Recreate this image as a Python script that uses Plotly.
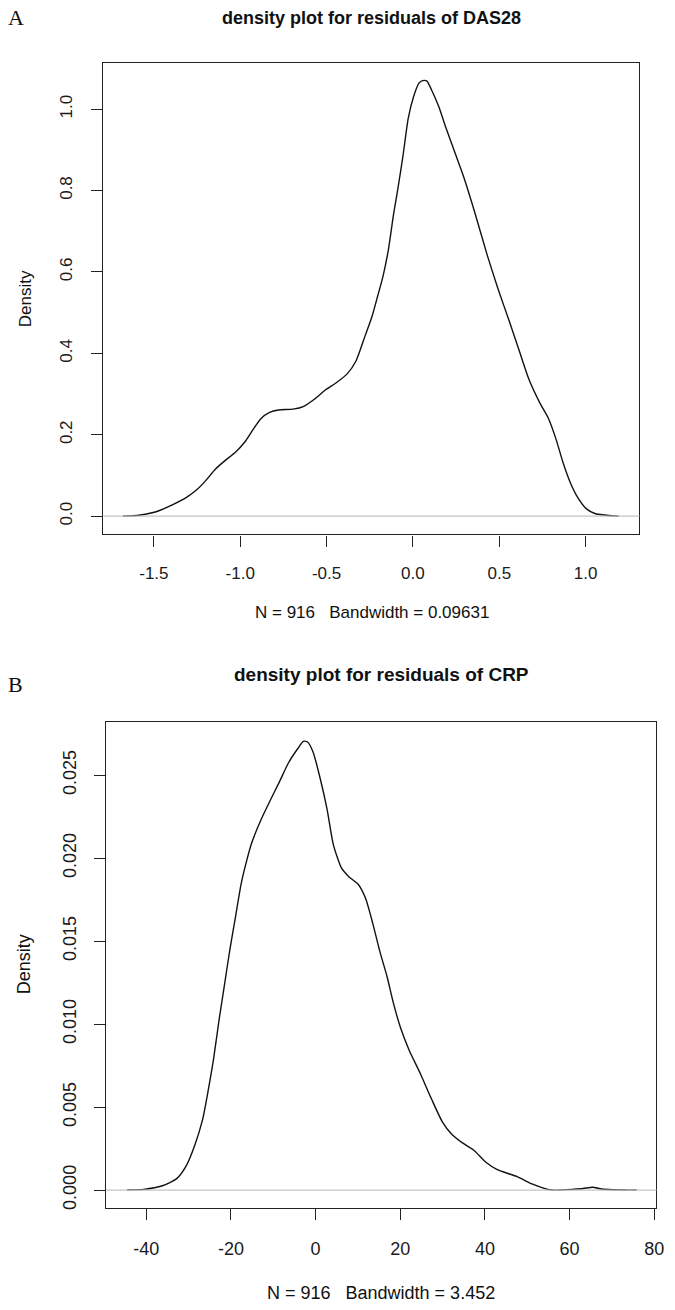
import plotly.graph_objects as go

# ---------------- data ----------------
# Panel A: density of residuals of DAS28
dens_a_x = [-1.68, -1.62, -1.578, -1.487, -1.403, -1.309, -1.257, -1.205, -1.143, -1.090, -1.028,
            -0.976, -0.924, -0.882, -0.830, -0.778, -0.694, -0.632, -0.569, -0.507,
            -0.444, -0.382, -0.329, -0.277, -0.236, -0.204, -0.173, -0.142, -0.111,
            -0.085, -0.058, -0.027, 0.004, 0.035, 0.056, 0.081, 0.108, 0.150, 0.188,
            0.244, 0.296, 0.359, 0.432, 0.494, 0.557, 0.619, 0.671, 0.734, 0.786,
            0.828, 0.869, 0.911, 0.953, 1.005, 1.057, 1.109, 1.15, 1.19]
dens_a_y = [0.0, 0.001, 0.003, 0.011, 0.026, 0.047, 0.063, 0.085, 0.116, 0.136, 0.157,
            0.181, 0.214, 0.239, 0.255, 0.261, 0.263, 0.270, 0.288, 0.310,
            0.328, 0.349, 0.382, 0.443, 0.492, 0.541, 0.590, 0.655, 0.745,
            0.810, 0.884, 0.978, 1.031, 1.064, 1.070, 1.069, 1.047, 1.006, 0.958,
            0.892, 0.831, 0.745, 0.639, 0.557, 0.480, 0.402, 0.337, 0.279, 0.239,
            0.190, 0.132, 0.083, 0.047, 0.018, 0.006, 0.003, 0.001, 0.0]

# Panel B: density of residuals of CRP
dens_b_x = [-44.5, -40.6, -36.2, -32.8, -30.6, -28.5, -26.7, -25.4, -24.1, -22.8, -21.5,
            -20.2, -18.9, -17.6, -16.4, -15.1, -12.9, -10.7, -8.6, -6.4, -4.2, -2.9,
            -1.9, -0.6, 1.0, 2.7, 4.2, 6.1, 7.9, 10.0, 11.8, 13.5, 15.2, 16.9, 18.3,
            20.0, 22.1, 24.7, 27.3, 29.9, 32.1, 34.7, 37.3, 40.3, 42.9, 47.7, 51.1,
            54.2, 55.9, 58.5, 60.6, 63.2, 65.4, 67.6, 70.6, 73.0, 75.8]
dens_b_y = [0.0, 0.00004, 0.00026, 0.00069, 0.00144, 0.00273, 0.00424, 0.00596, 0.0079,
            0.01026, 0.01241, 0.01457, 0.0165, 0.01844, 0.01973, 0.02091, 0.02231,
            0.02349, 0.02457, 0.02575, 0.02661, 0.02704, 0.02700, 0.02640, 0.02489,
            0.02296, 0.0208, 0.01941, 0.01887, 0.01844, 0.01758, 0.01607, 0.01435,
            0.01284, 0.01134, 0.00983, 0.00843, 0.00704, 0.00553, 0.00413, 0.00338,
            0.00284, 0.00241, 0.00166, 0.00123, 0.0008, 0.00037, 0.00009, 0.0,
            0.00001, 0.00004, 0.00009, 0.00017, 0.00006, 0.00002, 0.0, 0.0]

a_xticks = [-1.5, -1.0, -0.5, 0.0, 0.5, 1.0]
a_xtick_text = ["-1.5", "-1.0", "-0.5", "0.0", "0.5", "1.0"]
a_yticks = [0.0, 0.2, 0.4, 0.6, 0.8, 1.0]
a_ytick_text = ["0.0", "0.2", "0.4", "0.6", "0.8", "1.0"]
b_xticks = [-40, -20, 0, 20, 40, 60, 80]
b_xtick_text = ["-40", "-20", "0", "20", "40", "60", "80"]
b_yticks = [0.0, 0.005, 0.010, 0.015, 0.020, 0.025]
b_ytick_text = ["0.000", "0.005", "0.010", "0.015", "0.020", "0.025"]

title_a = "density plot for residuals of DAS28"
title_b = "density plot for residuals of CRP"
xlab_a = "N = 916   Bandwidth = 0.09631"
xlab_b = "N = 916   Bandwidth = 3.452"
ylab = "Density"

# ---------------- layout helpers ----------------
W, H = 675, 1310
def px(x):
    return x / W
def py(y):
    return 1 - y / H

FONT = "Liberation Sans, Arial, sans-serif"
def ax(size):
    return dict(showgrid=False, zeroline=False, showline=True, linecolor="#222222", linewidth=1.3,
                mirror=True, ticks="outside", ticklen=11, tickwidth=1.1, tickcolor="#222222",
                tickfont=dict(family=FONT, size=size, color="#1a1a1a"))

fig = go.Figure()
fig.add_trace(go.Scatter(x=dens_a_x, y=dens_a_y, mode="lines", xaxis="x", yaxis="y",
                         line=dict(color="#111111", width=1.4, shape="spline", smoothing=0.6),
                         showlegend=False, hoverinfo="skip"))
fig.add_trace(go.Scatter(x=dens_b_x, y=dens_b_y, mode="lines", xaxis="x2", yaxis="y2",
                         line=dict(color="#111111", width=1.4, shape="spline", smoothing=0.6),
                         showlegend=False, hoverinfo="skip"))

fig.update_layout(
    width=W, height=H, margin=dict(l=0, r=0, t=0, b=0),
    paper_bgcolor="white", plot_bgcolor="white", showlegend=False,
    xaxis=dict(ax(17), domain=[px(104.7), px(647)], range=[-1.792, 1.311], anchor="y",
               tickvals=a_xticks, ticktext=a_xtick_text, ticklabelstandoff=12),
    yaxis=dict(ax(17), domain=[py(535.3), py(63)], range=[-0.0449, 1.1136], anchor="x",
               tickvals=a_yticks, ticktext=a_ytick_text, tickangle=-90, ticklabelstandoff=13),
    xaxis2=dict(ax(18), domain=[px(107.3), px(664.3)], range=[-49.5, 80.5], anchor="y2",
                tickvals=b_xticks, ticktext=b_xtick_text, ticklabelstandoff=13),
    yaxis2=dict(ax(18), domain=[py(1210), py(722.7)], range=[-0.00109, 0.02823], anchor="x2",
                tickvals=b_yticks, ticktext=b_ytick_text, tickangle=-90, ticklabelstandoff=11),
)

# gray zero lines (drawn above the curves, like R's plot.density)
for xr, yr in (("x domain", "y"), ("x2 domain", "y2")):
    fig.add_shape(type="line", xref=xr, yref=yr, x0=0, x1=1, y0=0, y1=0,
                  line=dict(color="#c4c4c4", width=1.2), layer="above")

def text(x, y, s, size=16, bold=False, family=FONT, angle=0):
    fig.add_annotation(x=px(x), y=py(y), xref="paper", yref="paper", text=("<b>%s</b>" % s) if bold else s,
                       showarrow=False, xanchor="center", yanchor="middle", textangle=angle,
                       font=dict(family=family, size=size, color="#111111"))

# panel A texts
text(16, 18, "A", size=22, family="Liberation Serif, Times New Roman, serif")
text(376, 18, title_a, size=18, bold=True)
text(26, 299, ylab, size=17, angle=-90)
text(376, 613, xlab_a, size=17)
# panel B texts
text(16, 686, "B", size=22, family="Liberation Serif, Times New Roman, serif")
text(386, 676, title_b, size=19, bold=True)
text(24, 966, ylab, size=18, angle=-90)
text(386, 1295, xlab_b, size=18)

fig.write_html("out.html", config={"displayModeBar": False},
               post_script="document.body.style.margin='0px';document.body.style.padding='0px';"
                           "document.body.style.overflow='hidden';")
